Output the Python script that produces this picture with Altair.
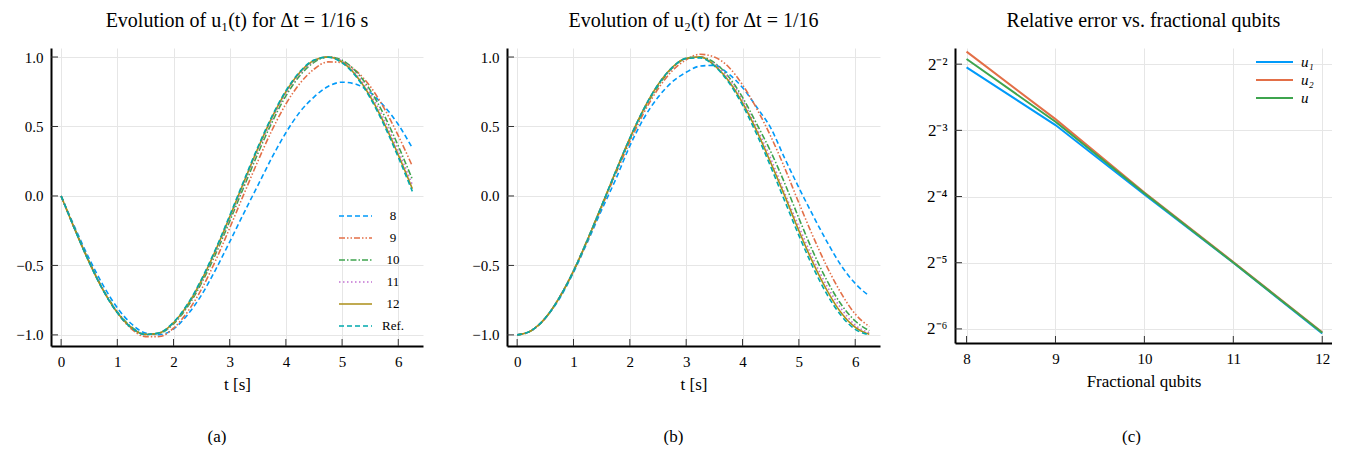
import altair as alt
import pandas as pd

# ---------------- data ----------------
t = [0, 0.25, 0.5, 0.75, 1.0, 1.25, 1.5, 1.75, 2.0, 2.25, 2.5, 2.75, 3.0,
     3.25, 3.5, 3.75, 4.0, 4.25, 4.5, 4.75, 5.0, 5.25, 5.5, 5.75, 6.0, 6.25]

series_names = ["8", "9", "10", "11", "12", "Ref."]

# panel (a): u1(t)
u1_8 = [0, -0.232, -0.451, -0.645, -0.805, -0.920, -0.986, -0.998, -0.958, -0.855,
        -0.712, -0.530, -0.330, -0.125, 0.075, 0.275, 0.455, 0.605, 0.712, 0.788,
        0.819, 0.804, 0.745, 0.646, 0.514, 0.345]
u1_9 = [0, -0.245, -0.475, -0.678, -0.841, -0.956, -1.013, -1.012, -0.952, -0.834,
        -0.670, -0.464, -0.231, 0.011, 0.249, 0.471, 0.662, 0.810, 0.912, 0.965,
        0.960, 0.900, 0.789, 0.630, 0.434, 0.215]
u1_10 = [0, -0.244, -0.473, -0.674, -0.834, -0.943, -0.996, -0.988, -0.921, -0.797,
         -0.626, -0.417, -0.182, 0.063, 0.304, 0.528, 0.720, 0.867, 0.962, 1.000,
         0.977, 0.895, 0.762, 0.580, 0.360, 0.120]
u1_11 = [0, -0.246, -0.476, -0.677, -0.837, -0.946, -0.997, -0.986, -0.916, -0.788,
         -0.614, -0.401, -0.163, 0.084, 0.326, 0.549, 0.737, 0.880, 0.970, 1.000,
         0.970, 0.878, 0.737, 0.550, 0.325, 0.080]
u1_12 = [0, -0.247, -0.478, -0.680, -0.839, -0.948, -0.997, -0.985, -0.912, -0.783,
         -0.605, -0.390, -0.150, 0.098, 0.341, 0.563, 0.750, 0.890, 0.975, 1.000,
         0.963, 0.866, 0.716, 0.522, 0.296, 0.052]
u1_ref = [0, -0.247, -0.479, -0.682, -0.841, -0.949, -0.997, -0.984, -0.909, -0.778,
          -0.598, -0.382, -0.141, 0.108, 0.351, 0.572, 0.757, 0.895, 0.978, 0.999,
          0.959, 0.859, 0.706, 0.508, 0.279, 0.033]

# panel (b): u2(t)
u2_8 = [-1.0, -0.97, -0.88, -0.74, -0.55, -0.33, -0.10, 0.12, 0.36, 0.56,
        0.71, 0.82, 0.89, 0.935, 0.94, 0.88, 0.78, 0.64, 0.49, 0.27,
        0.06, -0.14, -0.33, -0.50, -0.63, -0.72]
u2_9 = [-1.0, -0.97, -0.88, -0.73, -0.54, -0.32, -0.08, 0.16, 0.39, 0.60,
        0.77, 0.90, 0.98, 1.02, 1.00, 0.93, 0.80, 0.63, 0.43, 0.20,
        -0.05, -0.29, -0.51, -0.70, -0.85, -0.94]
u2_10 = [-1.0, -0.97, -0.88, -0.73, -0.54, -0.31, -0.07, 0.17, 0.41, 0.62,
         0.79, 0.92, 0.99, 1.00, 0.96, 0.86, 0.71, 0.52, 0.32, 0.09,
         -0.16, -0.40, -0.61, -0.78, -0.90, -0.97]
u2_11 = [-1.0, -0.97, -0.88, -0.73, -0.54, -0.315, -0.07, 0.175, 0.415, 0.625,
         0.80, 0.92, 0.99, 1.00, 0.95, 0.85, 0.69, 0.49, 0.27, 0.02,
         -0.22, -0.45, -0.65, -0.81, -0.93, -0.985]
u2_12 = [-1.0, -0.969, -0.878, -0.732, -0.540, -0.315, -0.071, 0.178, 0.416, 0.628,
         0.801, 0.924, 0.990, 1.00, 0.94, 0.83, 0.67, 0.47, 0.24, 0.00,
         -0.25, -0.48, -0.68, -0.84, -0.945, -0.995]
u2_ref = [-1.0, -0.969, -0.878, -0.732, -0.540, -0.315, -0.071, 0.178, 0.416, 0.628,
          0.801, 0.924, 0.990, 0.994, 0.936, 0.820, 0.654, 0.446, 0.211, -0.037,
          -0.284, -0.512, -0.709, -0.861, -0.960, -0.999]

# panel (c): relative error
qubits = [8, 9, 10, 11, 12]
err_names = ["u₁", "u₂", "u"]
err_u1 = [0.2415, 0.1321, 0.0639, 0.03125, 0.0149]
err_u2 = [0.285, 0.1406, 0.0652, 0.0315, 0.0151]
err_u = [0.264, 0.1368, 0.0647, 0.0313, 0.0150]

x_ticks_t = [0, 1, 2, 3, 4, 5, 6]
y_ticks_u = [-1.0, -0.5, 0.0, 0.5, 1.0]
x_ticks_q = [8, 9, 10, 11, 12]
y_ticks_err = [0.25, 0.125, 0.0625, 0.03125, 0.015625]

# ---------------- styling ----------------
FONT = "Liberation Serif"
palette = ["#009AFA", "#E36F47", "#3EA44E", "#C271D2", "#AC8E18", "#00A9AD"]
dashes = [[5, 3], [6, 2, 1.5, 2, 1.5, 2], [6, 2, 1.5, 2], [1.5, 2.5], [1, 0], [5, 3]]
TITLE_SIZE = 20
TITLE_OFFSET = 17


def long_df(xs, cols, names, xname, yname):
    rows = []
    for name, col in zip(names, cols):
        for xv, yv in zip(xs, col):
            rows.append({xname: xv, yname: yv, "series": name})
    return pd.DataFrame(rows)


df_a = long_df(t, [u1_8, u1_9, u1_10, u1_11, u1_12, u1_ref], series_names, "t", "u")
df_b = long_df(t, [u2_8, u2_9, u2_10, u2_11, u2_12, u2_ref], series_names, "t", "u")
df_c = long_df(qubits, [err_u1, err_u2, err_u], err_names, "q", "err")


def time_panel(df, title, width, height, y_extent, legend, caption, cap_dx):
    xs = alt.Scale(domain=[-0.18, 6.44], nice=False, zero=False)
    ys = alt.Scale(domain=[-1.08, 1.065], nice=False, zero=False)
    xax = alt.Axis(values=x_ticks_t, format="d", title="t  [s]", titlePadding=7)
    yax = alt.Axis(values=y_ticks_u, format=".1f", title=None,
                   minExtent=y_extent, maxExtent=y_extent)
    leg = None
    if legend:
        leg = alt.Legend(title=None, orient="none", legendX=287, legendY=158,
                         symbolType="stroke", symbolSize=1089, symbolStrokeWidth=1.6,
                         clipHeight=20, rowPadding=2, labelAlign="center",
                         labelOffset=20, labelFontSize=13, labelFont=FONT,
                         labelColor="black")
    lines = alt.Chart(df).mark_line(strokeWidth=1.6, clip=True, interpolate="monotone").encode(
        x=alt.X("t:Q", scale=xs, axis=xax),
        y=alt.Y("u:Q", scale=ys, axis=yax),
        color=alt.Color("series:N", scale=alt.Scale(domain=series_names, range=palette),
                        legend=leg, sort=series_names),
        strokeDash=alt.StrokeDash("series:N",
                                  scale=alt.Scale(domain=series_names, range=dashes),
                                  legend=leg, sort=series_names),
    )
    xt = alt.Chart(pd.DataFrame({"v": x_ticks_t})).mark_rule(color="#333", strokeWidth=1).encode(
        x=alt.X("v:Q", scale=xs, axis=xax), y=alt.value(height), y2=alt.value(height - 7))
    yt = alt.Chart(pd.DataFrame({"v": y_ticks_u})).mark_rule(color="#333", strokeWidth=1).encode(
        y=alt.Y("v:Q", scale=ys, axis=yax), x=alt.value(0), x2=alt.value(7))
    cap = alt.Chart(pd.DataFrame({"c": [caption]})).mark_text(
        font=FONT, fontSize=17, color="black").encode(
        text="c:N", x=alt.value(width / 2 + cap_dx), y=alt.value(389))
    return alt.layer(lines, xt, yt, cap).properties(
        width=width, height=height,
        title=alt.TitleParams(title, fontSize=TITLE_SIZE, font=FONT, fontWeight="normal",
                              offset=TITLE_OFFSET))


panel_a = time_panel(df_a, "Evolution of u₁(t)  for  Δt = 1/16 s", 372, 298, 43, True, "(a)", -20)
panel_b = time_panel(df_b, "Evolution of u₂(t)  for  Δt = 1/16", 373, 298, 84, False, "(b)", -20)

# panel c
cw, ch = 377, 295
qs = alt.Scale(domain=[7.87, 12.11], nice=False, zero=False)
es = alt.Scale(type="log", base=2, domain=[0.01348, 0.2961], nice=False)
qax = alt.Axis(values=x_ticks_q, format="d", title="Fractional qubits", titlePadding=7)
lab = ("'2' + (round(log(datum.value)/LN2) == -2 ? '⁻²' : round(log(datum.value)/LN2) == -3 ? '⁻³' : "
       "round(log(datum.value)/LN2) == -4 ? '⁻⁴' : round(log(datum.value)/LN2) == -5 ? '⁻⁵' : '⁻⁶')")
eax = alt.Axis(values=y_ticks_err, labelExpr=lab, title=None, minExtent=75, maxExtent=75,
               labelFontSize=17)
leg_c = alt.Legend(title=None, orient="none", legendX=300, legendY=6,
                   symbolType="stroke", symbolSize=1369, symbolStrokeWidth=2,
                   clipHeight=16, rowPadding=2, labelFontSize=15, labelFont=FONT,
                   labelFontStyle="italic", labelColor="black", labelOffset=7)
lines_c = alt.Chart(df_c).mark_line(strokeWidth=2, clip=True).encode(
    x=alt.X("q:Q", scale=qs, axis=qax),
    y=alt.Y("err:Q", scale=es, axis=eax),
    color=alt.Color("series:N", scale=alt.Scale(domain=err_names, range=palette[:3]),
                    legend=leg_c, sort=err_names),
)
xt_c = alt.Chart(pd.DataFrame({"v": x_ticks_q})).mark_rule(color="#333", strokeWidth=1).encode(
    x=alt.X("v:Q", scale=qs, axis=qax), y=alt.value(ch), y2=alt.value(ch - 7))
yt_c = alt.Chart(pd.DataFrame({"v": y_ticks_err})).mark_rule(color="#333", strokeWidth=1).encode(
    y=alt.Y("v:Q", scale=es, axis=eax), x=alt.value(0), x2=alt.value(7))
cap_c = alt.Chart(pd.DataFrame({"c": ["(c)"]})).mark_text(
    font=FONT, fontSize=17, color="black").encode(
    text="c:N", x=alt.value(cw / 2 - 12), y=alt.value(389))
panel_c = alt.layer(lines_c, xt_c, yt_c, cap_c).properties(
    width=cw, height=ch,
    title=alt.TitleParams("Relative error vs. fractional qubits", fontSize=TITLE_SIZE, font=FONT,
                          fontWeight="normal", offset=TITLE_OFFSET))

chart = alt.hconcat(panel_a, panel_b, panel_c, spacing=0).resolve_scale(
    color="independent", strokeDash="independent", x="independent", y="independent"
).configure(
    font=FONT, padding={"left": 0, "top": 3, "right": 0, "bottom": 0}
).configure_view(stroke=None).configure_axis(
    domainColor="black", domainWidth=2, grid=True, gridColor="#e6e6e6", gridWidth=1,
    ticks=False, labelFont=FONT, titleFont=FONT, labelFontSize=15, titleFontSize=17,
    labelColor="black", titleColor="black", titleFontWeight="normal", labelPadding=8
)

chart.save("out.html", embed_options={"renderer": "svg", "actions": False})
